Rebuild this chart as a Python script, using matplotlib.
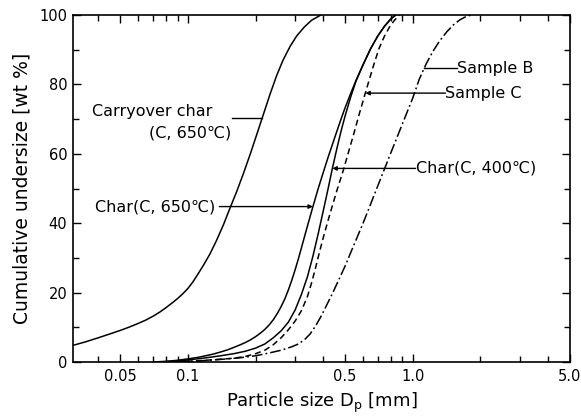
import numpy as np
import matplotlib
matplotlib.use("Agg")
import matplotlib.pyplot as plt
from matplotlib.ticker import FixedLocator, NullFormatter

# ---- data ----
carry_D = [0.0308, 0.035, 0.04, 0.045, 0.05, 0.055, 0.06, 0.065, 0.07, 0.075,
           0.08, 0.085, 0.09, 0.095, 0.10, 0.105, 0.11, 0.117, 0.125, 0.134,
           0.144, 0.154, 0.165, 0.177, 0.19, 0.203, 0.217, 0.232, 0.248, 0.265,
           0.285, 0.305, 0.33, 0.355, 0.39]
carry_v = [4.8, 5.8, 7.0, 8.1, 9.1, 10.1, 11.1, 12.1, 13.2, 14.4,
           15.7, 17.0, 18.3, 19.7, 21.2, 23.0, 25.0, 27.8, 31.0, 35.0,
           39.6, 44.4, 49.2, 54.5, 60.2, 65.8, 71.5, 77.2, 82.5, 87.0,
           91.0, 94.0, 96.6, 98.5, 100]

char650_D = [0.07, 0.08, 0.09, 0.10, 0.11, 0.12, 0.13, 0.14, 0.15, 0.16,
             0.17, 0.18, 0.19, 0.20, 0.21, 0.22, 0.23, 0.24, 0.25, 0.26,
             0.27, 0.28, 0.29, 0.30, 0.31, 0.32, 0.335, 0.35, 0.36, 0.38,
             0.40, 0.42, 0.44, 0.46, 0.48, 0.50, 0.53, 0.56, 0.60, 0.65,
             0.70, 0.75, 0.80, 0.84]
char650_v = [0, 0.2, 0.5, 0.9, 1.3, 1.8, 2.3, 2.9, 3.5, 4.2,
             4.9, 5.6, 6.4, 7.3, 8.3, 9.4, 10.7, 12.2, 14.0, 16.0,
             18.2, 20.8, 23.6, 26.6, 29.7, 32.9, 37.6, 42.0, 44.8, 50.0,
             54.6, 58.9, 62.8, 66.5, 70.0, 73.2, 77.4, 81.2, 85.5, 90.3,
             94.0, 96.8, 98.9, 100]

char400_D = [0.075, 0.09, 0.10, 0.12, 0.14, 0.16, 0.18, 0.20, 0.22, 0.24,
             0.26, 0.28, 0.30, 0.32, 0.34, 0.36, 0.38, 0.40, 0.42, 0.44,
             0.46, 0.48, 0.50, 0.53, 0.56, 0.60, 0.65, 0.70, 0.75, 0.80, 0.84]
char400_v = [0, 0.3, 0.6, 1.2, 1.8, 2.4, 3.1, 4.0, 5.2, 7.0,
             9.0, 11.5, 15.0, 19.5, 24.5, 30.5, 37.0, 43.5, 49.8, 56.0,
             61.5, 66.5, 70.8, 76.4, 81.0, 85.5, 90.3, 94.0, 96.8, 98.9, 100]

sampleC_D = [0.08, 0.10, 0.12, 0.14, 0.16, 0.18, 0.20, 0.22, 0.24, 0.26,
             0.28, 0.30, 0.32, 0.34, 0.355, 0.37, 0.385, 0.40, 0.42, 0.44,
             0.46, 0.49, 0.52, 0.55, 0.58, 0.61, 0.64, 0.67, 0.71, 0.75,
             0.79, 0.83, 0.875]
sampleC_v = [0, 0.2, 0.5, 0.8, 1.1, 1.6, 2.4, 3.4, 5.0, 7.0,
             9.3, 11.8, 14.8, 18.8, 22.8, 27.2, 31.7, 35.8, 40.7, 45.2,
             49.4, 55.0, 60.8, 66.3, 71.7, 76.6, 81.2, 85.5, 90.5, 94.0,
             96.6, 98.5, 100]

sampleB_D = [0.09, 0.11, 0.13, 0.15, 0.17, 0.20, 0.23, 0.26, 0.29, 0.31,
             0.33, 0.35, 0.37, 0.39, 0.41, 0.44, 0.47, 0.50, 0.55, 0.60,
             0.65, 0.70, 0.75, 0.80, 0.85, 0.90, 0.95, 1.00, 1.07, 1.15,
             1.23, 1.32, 1.42, 1.52, 1.62, 1.72, 1.82]
sampleB_v = [0, 0.3, 0.6, 0.9, 1.2, 1.8, 2.6, 3.4, 4.4, 5.2,
             6.4, 8.1, 10.4, 13.0, 15.8, 19.8, 23.8, 27.6, 34.0, 39.8,
             45.5, 50.8, 55.7, 60.3, 64.6, 68.6, 72.4, 76.0, 81.5, 86.0,
             89.5, 92.6, 95.2, 97.2, 98.6, 99.5, 100]

x_ticks = [0.05, 0.1, 0.5, 1.0, 5.0]
x_ticklabels = ["0.05", "0.1", "0.5", "1.0", "5.0"]
y_ticks = [0, 20, 40, 60, 80, 100]

# ---- figure ----
fig = plt.figure(figsize=(5.81, 4.16), dpi=100)
ax = fig.add_axes([0.1256, 0.1298, 0.855, 0.834])

lw = 1.1
ax.plot(carry_D, carry_v, color="black", lw=lw)
ax.plot(char650_D, char650_v, color="black", lw=lw)
ax.plot(char400_D, char400_v, color="black", lw=lw)
ax.plot(sampleC_D, sampleC_v, color="black", lw=lw, linestyle=(0, (4, 2.5)))
ax.plot(sampleB_D, sampleB_v, color="black", lw=lw, linestyle=(0, (7, 2, 1.2, 2)))

ax.set_xscale("log")
ax.set_xlim(0.0308, 5.0)
ax.set_ylim(0, 100)

ax.xaxis.set_major_locator(FixedLocator(x_ticks))
ax.set_xticklabels(x_ticklabels)
minor_x = [0.04, 0.06, 0.07, 0.08, 0.09, 0.2, 0.3, 0.4, 0.6, 0.7, 0.8, 0.9, 2, 3, 4]
ax.xaxis.set_minor_locator(FixedLocator(minor_x))
ax.xaxis.set_minor_formatter(NullFormatter())
ax.set_yticks(y_ticks)
ax.yaxis.set_minor_locator(FixedLocator([10, 30, 50, 70, 90]))

ax.tick_params(which="both", direction="in", top=True, right=True, width=1.0,
               labelsize=10.5, colors="black")
ax.tick_params(which="major", length=6)
ax.tick_params(which="minor", length=4)
ax.tick_params(axis="x", which="major", pad=5)
ax.tick_params(axis="y", which="major", pad=4)
for s in ax.spines.values():
    s.set_linewidth(1.2)

ax.set_xlabel("Particle size D$_\\mathrm{p}$ [mm]", fontsize=13, labelpad=5)
ax.set_ylabel("Cumulative undersize [wt %]", fontsize=13.5, labelpad=6)


def at_level(D, v, level):
    return 10 ** np.interp(level, v, np.log10(D))


fs = 11.5
arrow_kw = dict(arrowstyle="-|>", color="black", lw=1.0,
                mutation_scale=6, shrinkA=0, shrinkB=0)

# Carryover char
lvl = 70.3
xe = at_level(carry_D, carry_v, lvl)
ax.text(0.0375, 72.2, "Carryover char", fontsize=fs, va="center", ha="left")
ax.text(0.102, 66.0, "(C, 650\u2103)", fontsize=fs, va="center", ha="center")
ax.plot([0.157, xe], [lvl, lvl], color="black", lw=1.0)

# Char(C, 650)
lvl = 44.8
xe = at_level(char650_D, char650_v, lvl)
ax.text(0.0386, lvl, "Char(C, 650\u2103)", fontsize=fs, va="center", ha="left")
ax.annotate("", xy=(xe, lvl), xytext=(0.138, lvl), arrowprops=arrow_kw)

# Char(C, 400)
lvl = 55.8
xe = at_level(char400_D, char400_v, lvl)
ax.text(1.03, lvl, "Char(C, 400\u2103)", fontsize=fs, va="center", ha="left")
ax.annotate("", xy=(xe, lvl), xytext=(1.03, lvl), arrowprops=arrow_kw)

# Sample C
lvl = 77.5
xe = at_level(sampleC_D, sampleC_v, lvl)
ax.text(1.40, lvl, "Sample C", fontsize=fs, va="center", ha="left")
ax.annotate("", xy=(xe, lvl), xytext=(1.40, lvl), arrowprops=arrow_kw)

# Sample B
lvl = 84.6
xe = at_level(sampleB_D, sampleB_v, lvl)
ax.text(1.58, lvl, "Sample B", fontsize=fs, va="center", ha="left")
ax.plot([xe, 1.58], [lvl, lvl], color="black", lw=1.0)

fig.savefig("out.png", dpi=100)
